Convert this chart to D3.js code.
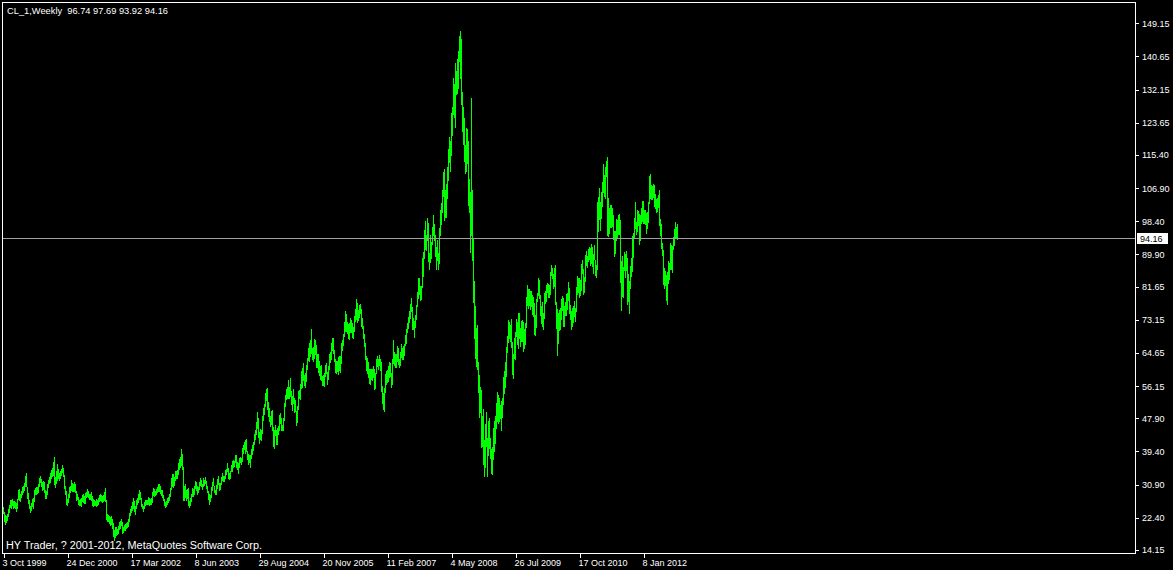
<!DOCTYPE html>
<html>
<head>
<meta charset="utf-8">
<script src="https://cdn.jsdelivr.net/npm/d3@7"></script>
<style>
  html, body { margin: 0; padding: 0; background: #000; }
  svg { display: block; }
  text { font-family: "Liberation Sans", Arial, sans-serif; }
</style>
</head>
<body>
<svg id="chart" width="1173" height="570"></svg>
<script>
// ---------------- DATA (weekly high / low, CL_1 Weekly, one bar per week from 3 Oct 1999) ----------------
const symbolTitle = "CL_1,Weekly";
const lastBar = { open: 96.74, high: 97.69, low: 93.92, close: 94.16 };
const firstWeek = "1999-10-03";

const high1999 = [25.2,24.0,23.0,22.8,23.5,24.6,25.8,26.9,27.0,27.2,26.8,26.6,26.5];
const low1999  = [23.6,21.7,20.8,21.3,21.8,22.8,24.0,25.2,24.9,25.6,24.8,25.2,25.0];

const high2000 = [26.2,27.2,29.6,29.8, 28.4,29.3,30.2,30.6, 31.2,33.0,34.0,30.2,28.8, 27.0,25.5,26.2,27.3,27.5,
  29.5,30.0,30.4,30.3, 31.0,32.5,33.0,32.4, 31.5,31.8,31.5,29.5,29.3, 31.0,32.2,32.8,33.8, 34.6,35.2,36.8,38.0,
  32.8,34.5,36.2,35.0,34.0, 34.4,35.0,36.0,35.2, 33.5,30.5,29.2,27.3,28.6];
const low2000  = [24.2,25.0,27.2,26.9, 26.8,27.8,28.6,29.0, 29.6,30.6,30.5,27.5,26.2, 25.0,23.9,24.3,25.5,25.0,
  26.8,28.5,28.6,28.8, 28.9,30.5,31.5,30.6, 29.5,29.8,29.0,27.4,27.5, 28.6,30.2,31.2,31.5, 32.5,33.0,33.5,31.0,
  30.2,31.3,32.0,32.6,32.0, 32.6,33.5,34.2,33.0, 30.0,28.4,26.0,25.8,26.5];

const high2001 = [30.3,30.5,32.2,31.3, 31.0,31.7,31.0,29.2, 28.5,27.8,27.0,27.2, 27.6,28.2,28.5,28.0,28.8,
  29.0,29.7,29.3,28.6, 28.5,28.9,28.0,27.1, 27.0,26.8,27.3,27.0,27.5, 28.2,28.5,28.3,28.0, 28.3,29.0,30.0,27.0,23.5,
  23.2,22.8,22.5,22.8, 22.0,21.0,19.3,20.0, 20.0,19.6,20.4,21.2,21.5];
const low2001  = [27.8,29.0,29.5,29.2, 29.2,29.4,28.9,27.0, 27.2,26.0,25.8,25.8, 25.5,26.8,26.5,26.1,26.2,
  27.7,28.0,27.8,27.2, 27.3,27.0,25.8,25.5, 25.7,25.8,25.5,25.8,25.9, 26.6,27.0,26.8,26.4, 26.6,27.0,26.8,22.0,21.5,
  21.6,21.0,20.6,20.8, 19.8,17.8,16.8,17.4, 18.1,18.2,18.6,19.5,19.8];

const high2002 = [22.0,21.2,20.0,20.6, 20.7,21.1,21.4,22.1, 23.6,24.6,25.5,26.5,27.4, 26.8,25.5,27.0,27.5,
  28.4,29.5,29.0,27.6, 25.9,25.5,26.4,26.9,27.0, 27.0,27.8,27.5,27.3, 27.5,29.0,30.0,29.8, 29.2,29.8,30.2,31.0,31.0,
  30.5,29.6,29.5,28.2, 27.2,26.5,26.8,27.5, 27.8,28.5,30.0,32.5,33.6];
const low2002  = [20.5,18.6,18.8,19.2, 19.3,19.8,20.0,20.4, 21.5,23.0,23.9,24.3,25.0, 24.2,23.5,25.0,26.0,
  26.4,27.3,27.2,25.5, 24.8,24.2,24.8,25.7,26.0, 26.0,26.0,25.8,25.9, 26.0,26.5,28.2,28.0, 28.3,28.5,29.0,29.4,29.3,
  28.7,28.3,27.8,27.0, 25.8,25.2,25.5,26.0, 26.4,26.9,28.0,29.8,30.5];

const high2003 = [33.6,32.8,34.5,34.5, 34.6,36.4,37.4,38.0, 40.0,38.8,35.5,30.5,31.0, 29.5,29.8,30.0,26.8,
  27.5,28.5,30.0,29.8, 30.6,31.8,31.5,30.5,30.3, 31.5,32.5,32.2,31.0, 32.5,32.0,32.8,31.8,30.5, 29.4,28.6,28.3,30.3,
  31.5,32.5,30.5,29.5, 30.8,32.4,33.0,31.2,31.2, 32.8,33.8,33.2,33.0];
const low2003  = [30.4,30.8,32.2,32.5, 32.7,33.6,35.0,35.5, 36.0,35.0,26.9,27.0,27.8, 27.0,27.5,25.8,25.1,
  25.8,26.8,28.0,28.0, 28.5,30.0,29.6,28.5,28.9, 29.9,30.7,30.5,29.8, 30.6,30.8,31.4,30.0,28.9, 27.3,26.0,26.8,27.8,
  29.5,30.8,29.0,28.5, 28.6,30.0,31.0,29.5,29.8, 31.0,32.0,31.8,31.8];

const high2004 = [34.6,35.0,36.5,35.2, 34.0,34.5,36.0,37.0,37.3, 37.0,38.4,38.5,36.6, 36.4,37.8,38.0,37.8,
  40.3,41.0,41.8,42.3,42.5, 39.5,38.8,38.5,38.5, 40.0,41.0,41.8,43.8, 44.8,46.9,49.4,48.0,44.5, 45.2,45.0,48.6,50.5,
  51.6,54.5,55.3,55.7,52.0, 50.5,48.5,49.8,50.0, 45.8,44.8,46.3,44.8];
const low2004  = [32.5,33.6,34.3,32.5, 32.4,32.5,34.3,34.3,35.4, 35.6,36.6,35.3,34.8, 33.8,35.5,36.7,36.2,
  37.0,38.9,40.0,39.0,39.5, 37.5,36.2,36.7,35.4, 37.8,38.7,39.9,41.3, 42.6,43.9,45.5,43.1,41.6, 42.5,42.4,44.2,47.5,
  49.0,51.0,52.6,50.4,48.5, 47.2,46.0,46.5,45.0, 40.7,40.3,43.5,41.2];

const high2005 = [45.3,46.0,48.8,49.3,48.0, 46.2,48.1,51.8,53.9, 55.5,56.0,57.6,56.0, 58.3,55.0,53.5,55.5,
  53.2,52.5,49.8,51.0,54.8, 55.2,56.8,60.0,60.9, 62.1,59.0,59.5,61.5,63.3, 65.8,67.1,68.0,70.8, 66.0,66.2,68.3,67.9,
  66.7,64.5,64.4,62.6,61.3, 61.5,58.7,59.1,59.5, 61.5,62.0,59.8,61.3];
const low2005  = [41.3,43.8,45.0,46.7,45.0, 44.8,45.0,47.5,51.0, 52.8,53.1,53.0,53.0, 53.7,51.6,50.1,51.9,
  49.4,49.9,46.2,47.0,50.3, 53.0,52.9,55.6,56.0, 57.6,56.4,55.9,57.5,60.6, 62.9,62.5,63.8,64.6, 63.0,62.6,63.4,64.4,
  61.0,61.0,59.7,59.0,58.0, 57.8,56.4,56.5,56.2, 58.8,59.5,56.7,58.1];

const high2006 = [64.4,64.8,67.3,68.6,68.5, 65.5,63.2,62.7,62.6, 63.5,63.8,64.0,67.2, 68.1,69.6,72.5,75.4,74.7,
  72.5,72.0,72.3,73.5, 73.0,72.3,71.2,74.2, 75.8,78.4,77.4,75.6,77.0, 77.2,76.0,73.5,71.5, 69.5,67.2,64.0,63.3,
  62.3,60.5,60.5,60.6,60.5, 61.3,60.5,59.5,63.2, 63.8,63.0,64.2,63.0,62.3];
const low2006  = [60.6,62.4,63.2,65.5,64.6, 62.6,59.8,59.4,60.0, 59.2,60.2,59.7,62.0, 65.3,66.7,69.1,70.2,70.4,
  69.8,68.5,68.3,70.0, 69.9,68.8,68.5,70.2, 72.9,73.4,72.5,73.2,73.8, 74.8,71.5,71.1,68.5, 66.5,63.0,60.4,59.5,
  58.6,57.0,56.6,58.0,57.6, 58.5,55.4,55.6,59.6, 61.2,60.5,61.5,60.4,55.0];

const high2007 = [56.3,54.5,55.6,59.3, 60.0,60.2,61.4,62.3, 62.0,59.5,63.0,68.1, 65.0,64.5,64.3,66.4,66.0,
  63.0,65.0,66.9,65.8, 66.5,67.0,69.3,70.7, 72.4,73.8,75.3,77.2,78.8, 76.5,73.5,72.9,74.4, 77.0,80.4,83.9,83.8,81.7,
  81.8,89.0,90.5,96.2, 98.6,95.0,99.3,98.0, 90.2,94.8,93.2,96.9,100.0];
const low2007  = [51.9,50.3,49.9,54.6, 56.8,57.2,57.4,58.6, 58.8,56.0,56.7,62.0, 61.5,61.0,61.1,62.7,61.8,
  61.0,61.5,63.5,63.0, 63.2,64.2,66.8,67.3, 70.0,71.0,72.5,73.5,75.5, 70.9,70.8,68.8,71.2, 73.3,76.6,78.7,79.8,78.3,
  78.5,81.5,84.3,89.0, 91.3,91.0,93.5,88.2, 86.2,87.9,89.0,92.6,95.0];

const high2008 = [97.8,95.0,91.7,93.5, 90.4,96.7,101.3,103.0, 106.5,111.0,111.8,106.5,108.0, 112.2,117.0,119.9,119.0,
  126.2,127.8,135.1,133.7, 139.1,137.0,139.9,142.0,145.9, 147.3,145.2,131.5,127.7, 125.0,118.0,122.2,122.0,
  119.0,109.2,106.0,130.0,106.5, 94.1,83.0,76.8,71.1, 71.7,62.4,59.0,56.0, 55.2,48.5,50.2,42.3,46.4];
const low2008  = [93.7,89.6,86.1,88.6, 86.1,87.7,94.9,97.8, 100.8,105.0,98.7,99.6,99.6, 104.3,108.9,113.5,111.3,
  115.3,120.5,125.8,125.2, 122.5,131.1,131.2,132.6,139.5, 135.2,128.5,121.6,118.3, 113.9,110.7,111.3,113.3,
  102.5,100.7,90.5,95.0,88.5, 77.6,68.6,63.4,61.3, 60.5,54.6,48.3,49.5, 40.5,40.8,36.2,33.0,35.5];

const high2009 = [49.6,42.8,47.3,48.0, 42.8,40.0,40.5,45.5, 47.2,48.6,51.9,54.7,53.8, 53.1,51.2,52.3,53.2,
  58.6,60.1,62.3,66.3,69.0, 73.2,72.6,71.9,73.4, 67.5,64.5,68.6,69.9, 73.4,72.5,74.8,75.0,71.0, 72.9,73.1,72.5,70.8,
  72.4,78.9,82.0,81.0, 81.0,80.5,80.5,79.6, 79.0,77.4,74.4,78.4,79.9];
const low2009  = [40.7,33.2,38.6,40.3, 37.8,33.8,33.6,37.6, 39.4,41.7,45.4,47.1,46.7, 47.3,48.0,45.0,48.3,
  51.6,54.5,56.0,58.7,65.0, 67.4,68.4,67.8,66.2, 59.3,58.3,63.3,63.1, 68.9,67.0,65.8,68.5,66.5, 67.6,67.8,65.1,65.9,
  66.9,71.3,77.0,76.2, 77.0,75.9,76.8,74.6, 74.1,69.5,69.2,71.2,77.9];

const high2010 = [83.9,83.3,79.5,76.7,77.8, 75.0,80.1,80.5, 82.0,82.5,82.3,82.0,85.4, 87.2,86.5,84.9,86.5,
  87.2,77.8,75.8,75.0,75.7, 76.3,78.4,79.2,78.7, 76.7,77.7,79.8,80.0, 82.9,81.2,77.0,75.5,76.2, 76.7,77.9,76.2,81.5,
  84.4,83.8,83.9,83.3,87.4, 88.6,86.3,84.1,89.8, 90.8,89.4,91.4,91.9];
const low2010  = [79.6,78.7,74.4,72.4,71.6, 70.8,73.5,77.5, 78.0,80.2,79.1,79.0,79.7, 84.7,83.8,81.4,81.7,
  77.3,71.1,64.2,67.2,70.5, 70.8,73.4,75.6,71.5, 71.6,74.5,74.5,75.8, 78.2,75.0,73.4,70.8,71.5, 72.6,74.2,72.8,75.5,
  79.8,80.3,79.0,79.5,80.9, 85.2,79.8,80.3,83.0, 87.1,86.6,88.1,88.8];

const high2011 = [91.5,92.6,91.8,90.0,92.2, 88.6,87.2,103.4,104.7, 106.9,103.4,106.0,108.5, 113.0,110.3,112.4,113.9,
  114.8,104.5,101.7,102.7,102.6, 101.9,99.9,96.0,96.0, 99.0,98.8,100.0,100.3, 98.8,88.1,89.6,86.7,90.5,
  90.0,90.8,88.9,84.9, 83.1,87.0,89.0,94.7,95.5, 99.2,103.4,98.2,101.3, 101.0,100.2,100.0,101.8];
const low2011  = [87.1,87.7,87.0,85.1,88.8, 84.7,84.0,86.2,96.0, 99.0,96.2,99.2,102.4, 106.0,105.0,104.3,110.0,
  95.0,94.6,95.3,97.0,97.0, 97.2,93.8,89.6,90.3, 93.7,94.0,95.2,95.1, 82.9,75.7,79.2,79.1,85.8,
  84.2,86.0,77.1,77.9, 74.9,81.4,84.3,85.7,89.2, 94.0,96.6,95.1,96.0, 97.4,92.5,93.5,98.0];

const high2012 = [103.7,103.5,101.3,101.2,100.4, 100.8,103.4,110.0,110.6, 107.8,107.5,108.0,107.6,
  105.5,104.0,104.4,105.2,106.4, 98.9,97.6,92.9,91.0, 86.4,85.6,84.6,85.3, 88.3,87.6,92.9,92.3,92.0,
  94.3,96.5,98.3,97.0, 97.69];
const low2012  = [98.5,98.0,98.0,97.6,95.4, 96.6,98.3,103.0,104.4, 104.0,104.2,104.6,102.2,
  101.8,100.7,101.0,102.1,97.4, 94.9,91.5,89.8,82.3, 81.2,82.1,78.3,77.3, 82.6,83.7,86.2,86.2,85.5,
  91.2,92.4,94.0,94.0, 93.92];

const weekHigh = [].concat(high1999, high2000, high2001, high2002, high2003, high2004, high2005,
  high2006, high2007, high2008, high2009, high2010, high2011, high2012);
const weekLow = [].concat(low1999, low2000, low2001, low2002, low2003, low2004, low2005,
  low2006, low2007, low2008, low2009, low2010, low2011, low2012);

const priceTicks = [149.15,140.65,132.15,123.65,115.40,106.90,98.40,89.90,81.65,73.15,64.65,56.15,47.90,39.40,30.90,22.40,14.15];
const dateTickLabels = ["3 Oct 1999","24 Dec 2000","17 Mar 2002","8 Jun 2003","29 Aug 2004","20 Nov 2005",
  "11 Feb 2007","4 May 2008","26 Jul 2009","17 Oct 2010","8 Jan 2012"];
const dateTickBars = [0,64,128,192,256,320,384,448,512,576,640];
const copyright = "HY Trader, ? 2001-2012, MetaQuotes Software Corp.";

// ---------------- DRAW ----------------
const W = 1173, H = 570;
const plotLeft = 2, plotTop = 2, plotRight = 1135, plotBottom = 553;
const svg = d3.select("#chart");
svg.append("rect").attr("width", W).attr("height", H).attr("fill", "#000");

const n = weekHigh.length;
const x = d3.scaleLinear().domain([0, 640]).range([3, 643]);
const y = d3.scaleLinear().domain([14.15, 149.15]).range([550, 23.3]);

const bars = d3.range(n).map(i => ({ i, h: weekHigh[i], l: weekLow[i] }));

// price bars (high-low lines, one pixel wide)
svg.append("g").attr("shape-rendering", "crispEdges")
  .selectAll("rect").data(bars).join("rect")
  .attr("x", d => Math.round(x(d.i)))
  .attr("width", 1)
  .attr("y", d => Math.round(y(d.h)))
  .attr("height", d => Math.max(1, Math.round(y(d.l)) - Math.round(y(d.h)) + 1))
  .attr("fill", "#00ff00");

// frame
const frame = svg.append("g").attr("stroke", "#fff").attr("stroke-width", 1).attr("shape-rendering", "crispEdges");
frame.append("line").attr("x1", plotLeft + 0.5).attr("x2", plotLeft + 0.5).attr("y1", plotTop).attr("y2", plotBottom);
frame.append("line").attr("x1", plotLeft).attr("x2", plotRight + 1).attr("y1", plotTop + 0.5).attr("y2", plotTop + 0.5);
frame.append("line").attr("x1", plotRight + 0.5).attr("x2", plotRight + 0.5).attr("y1", plotTop).attr("y2", plotBottom + 1);
frame.append("line").attr("x1", plotLeft).attr("x2", plotRight + 1).attr("y1", plotBottom + 0.5).attr("y2", plotBottom + 0.5);

// price axis (right)
const yAxis = d3.axisRight(y).tickValues(priceTicks).tickSize(3).tickPadding(3).tickFormat(d3.format(".2f"));
const gy = svg.append("g").attr("transform", `translate(${plotRight + 1},0)`).call(yAxis);
gy.select(".domain").remove();
gy.selectAll(".tick line").attr("stroke", "#fff").attr("shape-rendering", "crispEdges");
gy.selectAll(".tick text").attr("fill", "#fff").attr("font-size", 9).attr("font-family", "Liberation Sans, Arial, sans-serif");

// date axis (bottom)
const xAxis = d3.axisBottom(x).tickValues(dateTickBars).tickSize(4).tickPadding(2)
  .tickFormat((d, k) => dateTickLabels[k]);
const gx = svg.append("g").attr("transform", `translate(0.5,${plotBottom + 1})`).call(xAxis);
gx.select(".domain").remove();
gx.selectAll(".tick line").attr("stroke", "#fff").attr("shape-rendering", "crispEdges");
gx.selectAll(".tick text").attr("fill", "#fff").attr("font-size", 9).attr("text-anchor", "start")
  .attr("dx", -1.5).attr("font-family", "Liberation Sans, Arial, sans-serif");

// current price line and label
const yc = Math.round(y(lastBar.close)) + 0.5;
svg.append("line").attr("x1", plotLeft + 1).attr("x2", plotRight).attr("y1", yc).attr("y2", yc)
  .attr("stroke", "#a0a0a0").attr("shape-rendering", "crispEdges");
svg.append("rect").attr("x", plotRight + 2).attr("y", Math.round(y(lastBar.close)) - 5)
  .attr("width", 31).attr("height", 11).attr("fill", "#fff");
svg.append("text").attr("x", plotRight + 5).attr("y", Math.round(y(lastBar.close)) + 4)
  .attr("font-size", 9).attr("fill", "#000").text(d3.format(".2f")(lastBar.close));

// title & copyright
svg.append("text").attr("x", 7).attr("y", 14).attr("font-size", 9.3).attr("fill", "#fff")
  .attr("textLength", 161).attr("lengthAdjust", "spacingAndGlyphs")
  .style("white-space", "pre")
  .text(`${symbolTitle}  ${d3.format(".2f")(lastBar.open)} ${d3.format(".2f")(lastBar.high)} ${d3.format(".2f")(lastBar.low)} ${d3.format(".2f")(lastBar.close)}`);
svg.append("text").attr("x", 6).attr("y", 549).attr("font-size", 10).attr("fill", "#fff")
  .attr("textLength", 256).attr("lengthAdjust", "spacingAndGlyphs")
  .text(copyright);
</script>
</body>
</html>
